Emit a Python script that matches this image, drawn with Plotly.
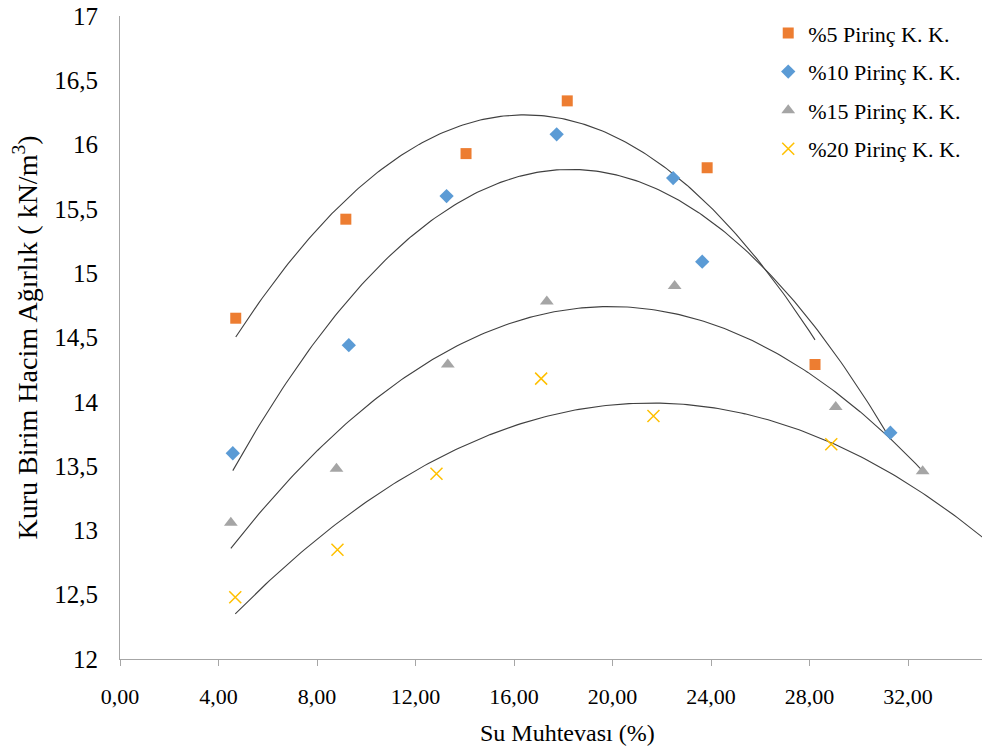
import numpy as np
import plotly.graph_objects as go

# ---- data ----
series_names = ["%5 Pirinç K. K.", "%10 Pirinç K. K.", "%15 Pirinç K. K.", "%20 Pirinç K. K."]

x5 = [4.70, 9.17, 14.05, 18.16, 23.84, 28.22]
y5 = [14.65, 15.42, 15.93, 16.34, 15.82, 14.29]

x10 = [4.58, 9.29, 13.26, 17.73, 22.46, 23.64, 31.28]
y10 = [13.60, 14.44, 15.60, 16.08, 15.74, 15.09, 13.76]

x15 = [4.50, 8.79, 13.31, 17.33, 22.52, 29.06, 32.59]
y15 = [13.06, 13.48, 14.29, 14.78, 14.90, 13.96, 13.46]

x20 = [4.68, 8.83, 12.85, 17.10, 21.66, 28.88]
y20 = [12.48, 12.85, 13.44, 14.18, 13.89, 13.67]

x_ticks = [0, 4, 8, 12, 16, 20, 24, 28, 32]
y_ticks = [12, 12.5, 13, 13.5, 14, 14.5, 15, 15.5, 16, 16.5, 17]

x_title = "Su Muhtevası (%)"
y_title = "Kuru Birim Hacim Ağırlık ( kN/m<sup>3</sup>)"

# trendline forward forecast (only the last series is extended in the original)
forward = [0, 0, 0, 7]

colors = ["#ED7D31", "#5B9BD5", "#A5A5A5", "#FFC000"]
symbols = ["square", "diamond", "triangle-up", "x-thin-open"]
sizes = [11, 11, 12, 12]

FONT = "'Times New Roman', 'Liberation Serif', serif"

fig = go.Figure()
data = [(x5, y5), (x10, y10), (x15, y15), (x20, y20)]

# trendlines (2nd order polynomial fits)
for i, (xs, ys) in enumerate(data):
    c = np.polyfit(xs, ys, 2)
    xx = np.linspace(min(xs), max(xs) + forward[i], 200)
    fig.add_trace(go.Scatter(
        x=xx, y=np.polyval(c, xx), mode="lines",
        line=dict(color="#404040", width=1.1),
        showlegend=False, hoverinfo="skip"))

for i, (xs, ys) in enumerate(data):
    marker = dict(color=colors[i], symbol=symbols[i], size=sizes[i])
    if symbols[i].startswith("x"):
        marker["line"] = dict(color=colors[i], width=1.5)
    fig.add_trace(go.Scatter(
        x=xs, y=ys, mode="markers", name=series_names[i],
        marker=marker, legendgroup=f"g{i}"))

fig.add_annotation(
    text=x_title, xref="paper", yref="paper", x=0.519, y=0, yshift=-74,
    xanchor="center", yanchor="middle", showarrow=False,
    font=dict(family=FONT, size=24, color="#000000"))

fig.update_layout(
    width=982, height=751,
    paper_bgcolor="white", plot_bgcolor="white",
    separators=",.",
    margin=dict(l=120, r=0, t=16, b=92),
    font=dict(family=FONT, size=20, color="#000000"),
    legend=dict(
        x=0.752, y=1.006, xanchor="left", yanchor="top",
        font=dict(family=FONT, size=22, color="#000000"),
        tracegroupgap=7, bgcolor="rgba(0,0,0,0)",
        itemwidth=30,
    ),
    xaxis=dict(
        range=[0, 35], tickvals=x_ticks, tickformat=".2f",
        showgrid=False, zeroline=False, automargin=False,
        showline=True, linecolor="#A6A6A6", linewidth=1,
        ticks="outside", ticklen=6, tickcolor="#A6A6A6",
        ticklabelstandoff=12,
        tickfont=dict(family=FONT, size=22),
    ),
    yaxis=dict(
        range=[12, 17], tickvals=y_ticks,
        showgrid=False, zeroline=False, automargin=False,
        showline=True, linecolor="#A6A6A6", linewidth=1,
        ticks="", ticklabelstandoff=16,
        tickfont=dict(family=FONT, size=25),
        title=dict(text=y_title, font=dict(family=FONT, size=28), standoff=8),
    ),
)

fig.write_html("out.html", config={"displayModeBar": False},
               post_script="document.body.style.margin='0';document.body.style.padding='0';")
